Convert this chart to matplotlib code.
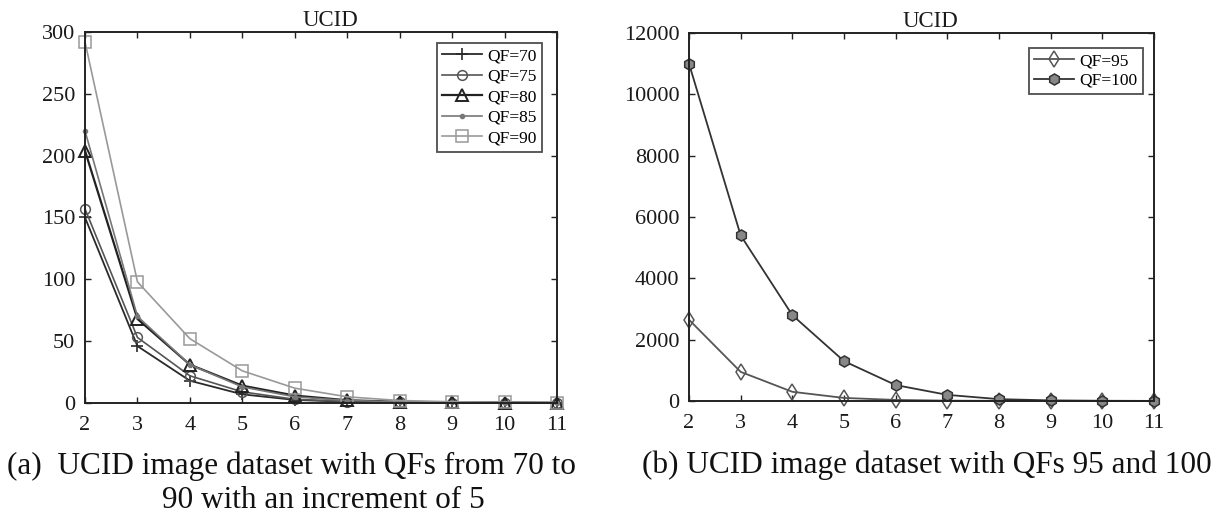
import matplotlib
matplotlib.use("Agg")
import matplotlib.pyplot as plt

plt.rcParams['font.family'] = ['Liberation Serif', 'DejaVu Serif']

# x axis: block index
x_vals = [2, 3, 4, 5, 6, 7, 8, 9, 10, 11]

# left panel: QF 70..90
qf70 = [150, 46, 18, 7, 2.5, 1, 0.5, 0.3, 0.2, 0.1]
qf75 = [157, 53, 22, 9, 3, 1.2, 0.6, 0.3, 0.2, 0.1]
qf80 = [204, 68, 31, 14, 6, 2.2, 1, 0.5, 0.3, 0.2]
qf85 = [220, 70, 31, 13, 5, 2, 1, 0.5, 0.3, 0.2]
qf90 = [292, 98, 52, 26, 12, 5, 2, 1, 0.5, 0.3]

# right panel: QF 95 and 100
qf95 = [2650, 950, 300, 100, 35, 12, 4, 2, 1, 0.5]
qf100 = [11000, 5400, 2800, 1300, 520, 200, 60, 20, 8, 3]

left_ticks = [0, 50, 100, 150, 200, 250, 300]
right_ticks = [0, 2000, 4000, 6000, 8000, 10000, 12000]

fig = plt.figure(figsize=(12.21, 5.15), dpi=100)
ax1 = fig.add_axes([85 / 1221, 112 / 515, 472 / 1221, 371 / 515])
ax2 = fig.add_axes([689 / 1221, 114 / 515, 465 / 1221, 368 / 515])


def style_axes(ax, yticks):
    ax.set_xlim(2, 11)
    ax.set_ylim(yticks[0], yticks[-1])
    ax.set_xticks(x_vals)
    ax.set_yticks(yticks)
    ax.tick_params(direction='in', top=True, right=True, length=4, width=1,
                   labelsize=16, pad=7, color='#222222', labelcolor='#1a1a1a')
    ax.tick_params(axis='x', pad=9)
    for sp in ax.spines.values():
        sp.set_linewidth(1.4)
        sp.set_color('#222222')
    ax.set_title('UCID', fontsize=16.5, color='#1a1a1a', pad=4, x=0.52)


ax1.plot(x_vals, qf70, color='#2a2a2a', lw=1.3, marker='+', ms=9, mew=1.2, label='QF=70', clip_on=False)
ax1.plot(x_vals, qf75, color='#555555', lw=1.2, marker='o', ms=7, mfc='none', mew=1.1, label='QF=75', clip_on=False)
ax1.plot(x_vals, qf80, color='#222222', lw=1.6, marker='^', ms=8, mfc='none', mew=1.4, label='QF=80', clip_on=False)
ax1.plot(x_vals, qf85, color='#777777', lw=1.2, marker='.', ms=6, label='QF=85', clip_on=False)
ax1.plot(x_vals, qf90, color='#999999', lw=1.2, marker='s', ms=8, mfc='none', mew=1.1, label='QF=90', clip_on=False)
style_axes(ax1, left_ticks)
leg1 = ax1.legend(loc='upper right', bbox_to_anchor=(0.968, 0.97), fontsize=12.5, frameon=True,
                  fancybox=False, edgecolor='#222222', handlelength=2.3, handletextpad=0.3,
                  labelspacing=0.25, borderpad=0.3, borderaxespad=0.0)
leg1.get_frame().set_linewidth(1.3)

ax2.plot(x_vals, qf95, color='#555555', lw=1.3, marker='d', ms=8, mfc='none', mew=1.1, label='QF=95', clip_on=False)
ax2.plot(x_vals, qf100, color='#333333', lw=1.3, marker='h', ms=8, mfc='#888888', mew=1.1, label='QF=100', clip_on=False)
style_axes(ax2, right_ticks)
leg2 = ax2.legend(loc='upper right', bbox_to_anchor=(0.976, 0.96), fontsize=12.5, frameon=True,
                  fancybox=False, edgecolor='#222222', handlelength=2.3, handletextpad=0.3,
                  labelspacing=0.2, borderpad=0.3, borderaxespad=0.0)
leg2.get_frame().set_linewidth(1.3)

fig.text(7 / 1221, 1 - 466 / 515, '(a)  UCID image dataset with QFs from 70 to',
         fontsize=22.5, va='center', ha='left', color='#111111')
fig.text(162 / 1221, 1 - 500 / 515, '90 with an increment of 5',
         fontsize=22.5, va='center', ha='left', color='#111111')
fig.text(642 / 1221, 1 - 465 / 515, '(b) UCID image dataset with QFs 95 and 100',
         fontsize=22.5, va='center', ha='left', color='#111111')

fig.savefig('out.png', dpi=100, facecolor='white')
